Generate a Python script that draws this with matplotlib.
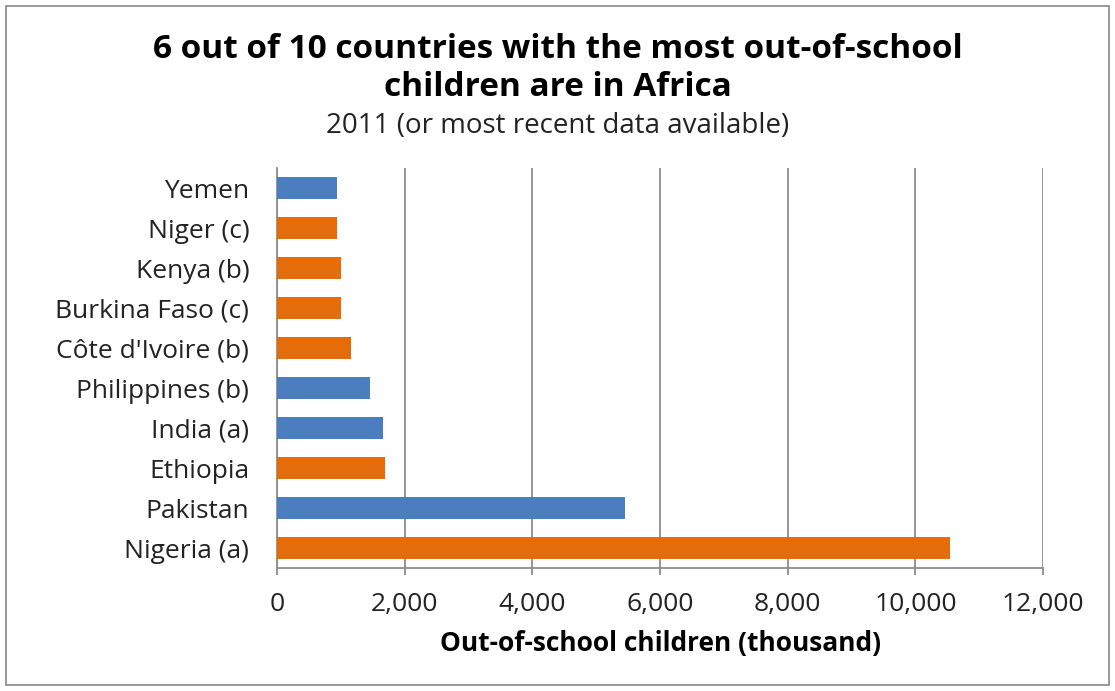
import matplotlib.pyplot as plt
import matplotlib.ticker as mticker
from matplotlib.patches import Rectangle

plt.rcParams['font.family'] = ['Open Sans', 'DejaVu Sans']

countries = ["Nigeria (a)", "Pakistan", "Ethiopia", "India (a)", "Philippines (b)",
             "Côte d'Ivoire (b)", "Burkina Faso (c)", "Kenya (b)", "Niger (c)", "Yemen"]
children = [10550, 5445, 1695, 1665, 1450, 1160, 1005, 1005, 940, 940]
in_africa = [True, False, True, False, False, True, True, True, True, False]

blue = "#4A7EBF"
orange = "#E46C0A"
colors = [orange if a else blue for a in in_africa]

fig = plt.figure(figsize=(11.15, 6.91), dpi=100)
ax = fig.add_axes([277 / 1115, 1 - 568 / 691, (1043 - 277) / 1115, 400 / 691])

ax.barh(range(len(countries)), children, height=0.56, color=colors, zorder=3)
ax.set_yticks(range(len(countries)))
ax.set_yticklabels(countries, fontsize=19, color="#222222")
ax.set_ylim(-0.5, len(countries) - 0.5)
ax.set_xlim(0, 12000)
ax.set_xticks(range(0, 12001, 2000))
ax.xaxis.set_major_formatter(mticker.FuncFormatter(lambda v, p: f"{int(v):,}"))
ax.tick_params(axis='x', labelsize=19, labelcolor="#222222", length=5, width=1.3,
               color="#8c8c8c", pad=12)
ax.tick_params(axis='y', length=0, pad=20)
ax.grid(axis='x', color="#8c8c8c", linewidth=1.3, zorder=0)
for s in ["top", "right"]:
    ax.spines[s].set_visible(False)
for s in ["left", "bottom"]:
    ax.spines[s].set_color("#8c8c8c")
    ax.spines[s].set_linewidth(1.3)

ax.set_xlabel("Out-of-school children (thousand)", fontsize=19, fontweight="bold",
              labelpad=10)

fig.text(0.5, 1 - 68 / 691, "6 out of 10 countries with the most out-of-school\nchildren are in Africa",
         ha="center", va="center", fontsize=24, fontweight="bold", linespacing=1.2)
fig.text(0.5, 1 - 126 / 691, "2011 (or most recent data available)", ha="center", va="center",
         fontsize=20, color="#222222")

fig.patches.append(Rectangle((6 / 1115, 6 / 691), 1 - 12 / 1115, 1 - 12 / 691,
                             transform=fig.transFigure, fill=False, edgecolor="#888888",
                             linewidth=1.2))

fig.savefig("out.png", dpi=100)
